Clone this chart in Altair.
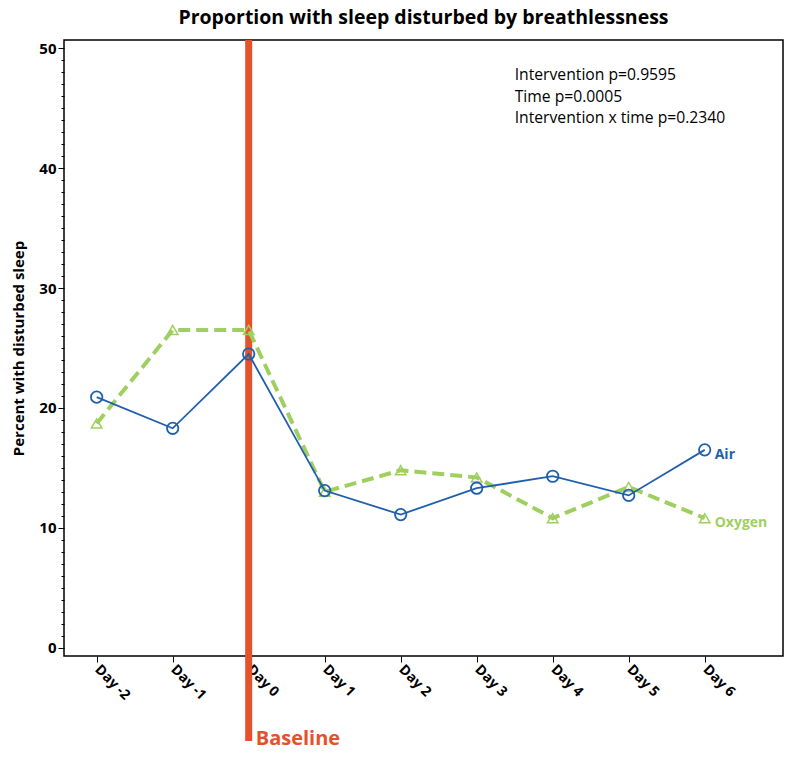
import altair as alt
import pandas as pd

days = [-2, -1, 0, 1, 2, 3, 4, 5, 6]
air = [20.9, 18.3, 24.5, 13.1, 11.1, 13.3, 14.3, 12.7, 16.5]
oxygen = [18.7, 26.5, 26.5, 13.0, 14.8, 14.2, 10.8, 13.4, 10.8]
stats = ["Intervention p=0.9595", "Time p=0.0005", "Intervention x time p=0.2340"]
stat_y = [47.75, 45.95, 44.2]

BLUE = "#1f5fad"
GREEN = "#9fcf5f"
RED = "#e4522b"
FONT = "Open Sans"

xdom = [-2.43, 7.03]
ydom = [-0.7, 50.7]

df_air = pd.DataFrame({"day": days, "pct": air})
df_oxy = pd.DataFrame({"day": days, "pct": oxygen})

xscale = alt.Scale(domain=xdom, nice=False, zero=False)
yscale = alt.Scale(domain=ydom, nice=False, zero=False)

xaxis = alt.Axis(values=days, labelExpr="'Day ' + datum.value", labelAngle=45,
                 labelAlign="left", labelBaseline="middle", labelFont=FONT,
                 labelFontWeight="bold", labelFontSize=14, labelColor="black",
                 tickColor="black", domain=False, grid=False, title=None,
                 tickSize=6, labelPadding=5, labelOverlap=False, tickCount=20)
yaxis = alt.Axis(values=list(range(0, 51)), tickCount=60,
                 labelExpr="datum.value % 10 === 0 ? datum.value : ''",
                 tickSize={"condition": {"test": "datum.value % 10 === 0", "value": 6}, "value": 3},
                 labelOverlap=False, labelBound=False,
                 labelFont=FONT, labelFontWeight="bold", labelFontSize=15,
                 labelColor="black", tickColor="black", domain=False, grid=False,
                 title="Percent with disturbed sleep", titleFont=FONT,
                 titleFontWeight="bold", titleFontSize=15, titleColor="black",
                 titlePadding=12, labelPadding=2)

base_x = alt.X("day:Q", scale=xscale, axis=xaxis)
base_y = alt.Y("pct:Q", scale=yscale, axis=yaxis)

baseline_df = pd.DataFrame({"day": [0], "top": [50.7], "bot": [-7.8], "lab": [-8.5]})
rule = alt.Chart(baseline_df).mark_rule(color=RED, strokeWidth=7).encode(
    x=alt.X("day:Q", scale=xscale),
    y=alt.Y("top:Q", scale=yscale),
    y2="bot:Q",
)
rule_text = alt.Chart(baseline_df).mark_text(
    text="Baseline", color=RED, font=FONT, fontWeight="bold", fontSize=20,
    align="left", baseline="bottom", dx=7
).encode(x=alt.X("day:Q", scale=xscale), y=alt.Y("lab:Q", scale=yscale))

oxy_line = alt.Chart(df_oxy).mark_line(color=GREEN, strokeWidth=4, strokeDash=[12, 6]).encode(x=base_x, y=base_y)
oxy_pts = alt.Chart(df_oxy).mark_point(shape="triangle-up", color=GREEN, size=110, strokeWidth=1.5, filled=False, opacity=1).encode(x=base_x, y=base_y)
air_line = alt.Chart(df_air).mark_line(color=BLUE, strokeWidth=1.8).encode(x=base_x, y=base_y)
air_pts = alt.Chart(df_air).mark_point(shape="circle", color=BLUE, size=130, strokeWidth=1.8, filled=False, opacity=1).encode(x=base_x, y=base_y)

end_df = pd.DataFrame({"day": [6, 6], "pct": [air[-1], oxygen[-1]], "name": ["Air", "Oxygen"]})
end_labels = alt.Chart(end_df).mark_text(align="left", dx=10, dy=5, font=FONT, fontWeight="bold", fontSize=14).encode(
    x=base_x, y=base_y, text="name:N",
    color=alt.Color("name:N", scale=alt.Scale(domain=["Air", "Oxygen"], range=[BLUE, GREEN]), legend=None),
)

stats_df = pd.DataFrame({"day": [3.5] * 3, "pct": stat_y, "t": stats})
stats_text = alt.Chart(stats_df).mark_text(align="left", baseline="middle", font=FONT, fontSize=15.7, color="black").encode(
    x=base_x, y=base_y, text="t:N")

chart = alt.layer(rule, rule_text, oxy_line, oxy_pts, air_line, air_pts, end_labels, stats_text).properties(
    width=719, height=616,
    title=alt.TitleParams("Proportion with sleep disturbed by breathlessness", font=FONT, fontSize=19.5,
                          fontWeight="bold", color="black", anchor="middle", offset=8),
    padding={"left": 3, "top": 0, "right": 5, "bottom": 5},
).configure(background="white").configure_view(stroke="black", strokeWidth=1.5)

chart.save("out.html", embed_options={"renderer": "svg", "actions": False})
